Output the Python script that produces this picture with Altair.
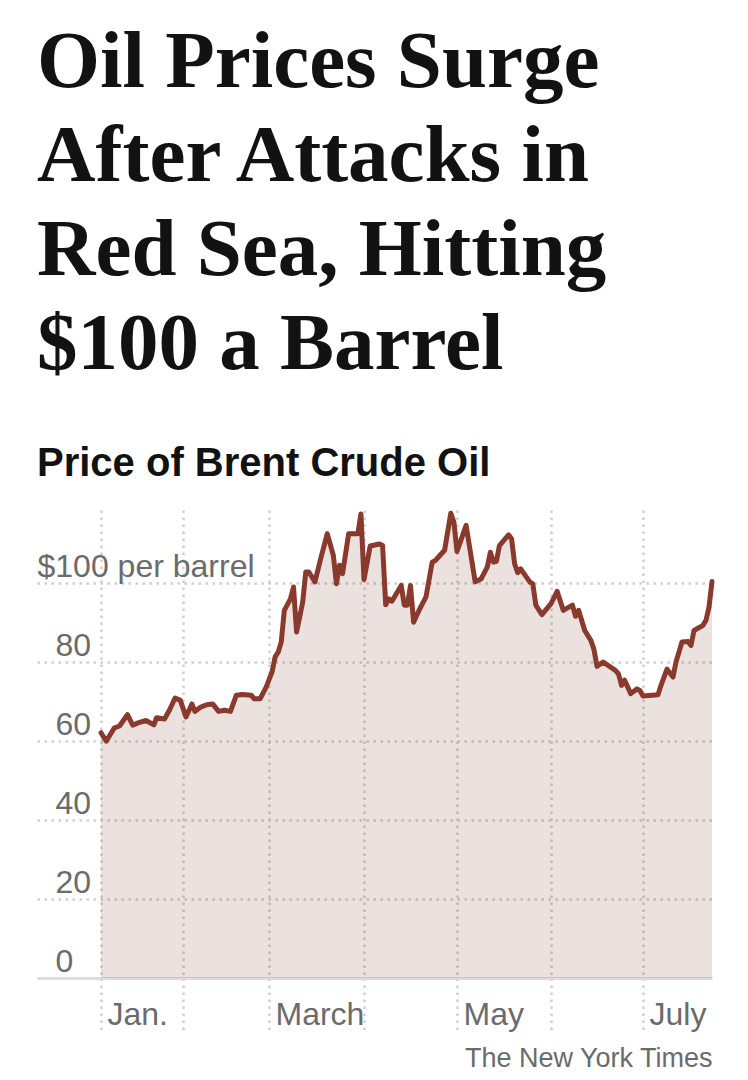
import altair as alt
import pandas as pd

# ---- data ----
dates = [
    "2024-01-01", "2024-01-03", "2024-01-06", "2024-01-08", "2024-01-11", "2024-01-13",
    "2024-01-15", "2024-01-18", "2024-01-21", "2024-01-22", "2024-01-25", "2024-01-27",
    "2024-01-29", "2024-01-31",
    "2024-02-02", "2024-02-04", "2024-02-05", "2024-02-07", "2024-02-09", "2024-02-11",
    "2024-02-13", "2024-02-15", "2024-02-17", "2024-02-19", "2024-02-21", "2024-02-24",
    "2024-02-25", "2024-02-27", "2024-02-29",
    "2024-03-02", "2024-03-03", "2024-03-04", "2024-03-05", "2024-03-06", "2024-03-08",
    "2024-03-09", "2024-03-10", "2024-03-12", "2024-03-13", "2024-03-14", "2024-03-16",
    "2024-03-18", "2024-03-19", "2024-03-20", "2024-03-22", "2024-03-23", "2024-03-24",
    "2024-03-25", "2024-03-27", "2024-03-30", "2024-03-31",
    "2024-04-01", "2024-04-03", "2024-04-06", "2024-04-07", "2024-04-08", "2024-04-09",
    "2024-04-10", "2024-04-13", "2024-04-14", "2024-04-15", "2024-04-16", "2024-04-17",
    "2024-04-19", "2024-04-21", "2024-04-23", "2024-04-24", "2024-04-27", "2024-04-29",
    "2024-04-30",
    "2024-05-01", "2024-05-04", "2024-05-07", "2024-05-09", "2024-05-11", "2024-05-12",
    "2024-05-13", "2024-05-14", "2024-05-15", "2024-05-18", "2024-05-19", "2024-05-20",
    "2024-05-21", "2024-05-22", "2024-05-25", "2024-05-26", "2024-05-27", "2024-05-29",
    "2024-06-01", "2024-06-03", "2024-06-05", "2024-06-08", "2024-06-09", "2024-06-10",
    "2024-06-12", "2024-06-14", "2024-06-15", "2024-06-16", "2024-06-18", "2024-06-22",
    "2024-06-23", "2024-06-24", "2024-06-25", "2024-06-27", "2024-06-29", "2024-06-30",
    "2024-07-01", "2024-07-06", "2024-07-07", "2024-07-09", "2024-07-11", "2024-07-12",
    "2024-07-14", "2024-07-16", "2024-07-17", "2024-07-18", "2024-07-21", "2024-07-22",
    "2024-07-23", "2024-07-24",
]
prices = [
    62.1, 60.0, 63.3, 63.8, 66.7, 64.0,
    64.6, 65.2, 64.1, 65.9, 65.6, 68.0,
    70.9, 70.3,
    66.1, 69.4, 67.5, 68.6, 69.2, 69.4,
    67.5, 67.8, 67.5, 71.6, 71.8, 71.6,
    70.7, 70.7, 73.6,
    77.5, 81.3, 82.5, 85.1, 93.1, 96.0,
    99.0, 87.6, 95.2, 102.8, 102.8, 100.3,
    106.6, 109.5, 112.5, 107.0, 99.8, 104.5,
    102.4, 112.5, 112.5, 117.5,
    100.9, 109.4, 109.9, 109.5, 94.5, 96.0,
    95.4, 99.4, 94.4, 94.4, 99.4, 90.1,
    93.5, 96.5, 105.3, 105.7, 108.3, 117.7,
    115.4,
    108.0, 114.6, 100.3, 101.1, 104.1, 107.8,
    105.3, 105.5, 109.5, 112.2, 111.2, 104.9,
    102.6, 103.6, 100.3, 99.8, 94.4, 92.0,
    94.8, 97.9, 93.1, 94.4, 91.6, 93.1,
    88.0, 85.5, 83.2, 78.9, 80.0, 77.9,
    77.0, 74.1, 75.4, 72.0, 73.2, 72.8,
    71.4, 71.7, 74.1, 78.2, 76.2, 80.0,
    85.1, 85.2, 84.2, 88.0, 89.3, 90.6,
    93.9, 100.4,
]
y_ticks = [0, 20, 40, 60, 80, 100]
title_lines = ["Oil Prices Surge", "After Attacks in", "Red Sea, Hitting", "$100 a Barrel"]
subtitle_text = "Price of Brent Crude Oil"
credit_text = ["The New York Times"]

# x axis: days counted from Jan. 1, 2024; the reference spaces its months unevenly
month_start_days = [0, 31, 60, 91, 121, 152, 182]          # Jan 1 ... Jul 1
month_names = ["Jan.", "", "March", "", "May", "", "July"]
x_break_days = [-24] + month_start_days + [205]            # Dec 8 ... Jul 24
x_break_px = [0, 64, 146, 232, 327, 420, 514, 606, 675]

df = pd.DataFrame({"date": dates, "price": prices})

W, H = 675, 468
GRAY = "#6b6b6b"
GRID = "#cfcfcf"

x_scale = alt.Scale(type="linear", domain=x_break_days, range=x_break_px,
                    nice=False, zero=False)
y_scale = alt.Scale(domain=[0, 118.5], nice=False, zero=True)

label_expr = " : ".join(
    f"datum.value == {dd} ? '{nm}'" for dd, nm in zip(month_start_days, month_names) if nm
) + " : ''"

x_axis = alt.Axis(
    values=month_start_days,
    labelExpr=label_expr,
    title=None,
    grid=True, gridColor=GRID, gridWidth=2.5, gridDash=[2.5, 4.5],
    ticks=True, tickSize=56, tickColor=GRID, tickWidth=2.5, tickDash=[2.5, 4.5],
    domain=True, domainColor="#dcdcdc", domainWidth=3,
    labelAlign="left", labelBaseline="alphabetic", labelPadding=-10, labelOffset=6,
    labelFont="Liberation Sans", labelFontSize=32, labelColor=GRAY,
    labelOverlap=False, labelBound=False, labelFlush=False, labelLimit=0,
)
y_axis = alt.Axis(
    values=y_ticks,
    labelExpr="datum.value == 100 ? '$100 per barrel' : datum.label",
    title=None,
    grid=True, gridColor=GRID, gridWidth=2.5, gridDash=[2.5, 4.5],
    ticks=False, tickSize=0, domain=False,
    labelAlign="left", labelBaseline="alphabetic", labelOffset=-7,
    labelPadding={"condition": {"test": "datum.value == 100", "value": 0}, "value": -18},
    labelFont="Liberation Sans", labelFontSize=32, labelColor=GRAY,
    labelOverlap=False, labelBound=False, labelFlush=False, labelLimit=0,
)

base = alt.Chart(df).transform_calculate(
    day="(toDate(datum.date) - utc(2024, 0, 1)) / 86400000"
).encode(
    x=alt.X("day:Q", scale=x_scale, axis=x_axis),
    y=alt.Y("price:Q", scale=y_scale, axis=y_axis),
)
area = base.mark_area(color="#7a3b30", fillOpacity=0.15)
line = base.mark_line(color="#8a392d", strokeWidth=5, strokeJoin="round", strokeCap="round")

credit = alt.Chart(pd.DataFrame({"t": credit_text})).mark_text(
    align="left", baseline="alphabetic", font="Liberation Sans", fontSize=27, color=GRAY
).encode(text="t:N", x=alt.value(428), y=alt.value(557))

chart = (
    alt.layer(area, line, credit)
    .properties(
        width=W,
        height=H,
        background="white",
        padding={"left": 37, "top": 22, "right": 0, "bottom": 0},
        title=alt.Title(
            text=title_lines,
            subtitle=subtitle_text,
            anchor="start",
            frame="group",
            font="Liberation Serif",
            fontSize=81,
            fontWeight="bold",
            lineHeight=94,
            color="#121212",
            subtitleFont="Liberation Sans",
            subtitleFontSize=40,
            subtitleFontWeight="bold",
            subtitleColor="#121212",
            subtitlePadding=58,
            offset=25,
        ),
    )
    .configure_view(strokeWidth=0)
)

chart.save("out.html", embed_options={"renderer": "svg", "actions": False})
